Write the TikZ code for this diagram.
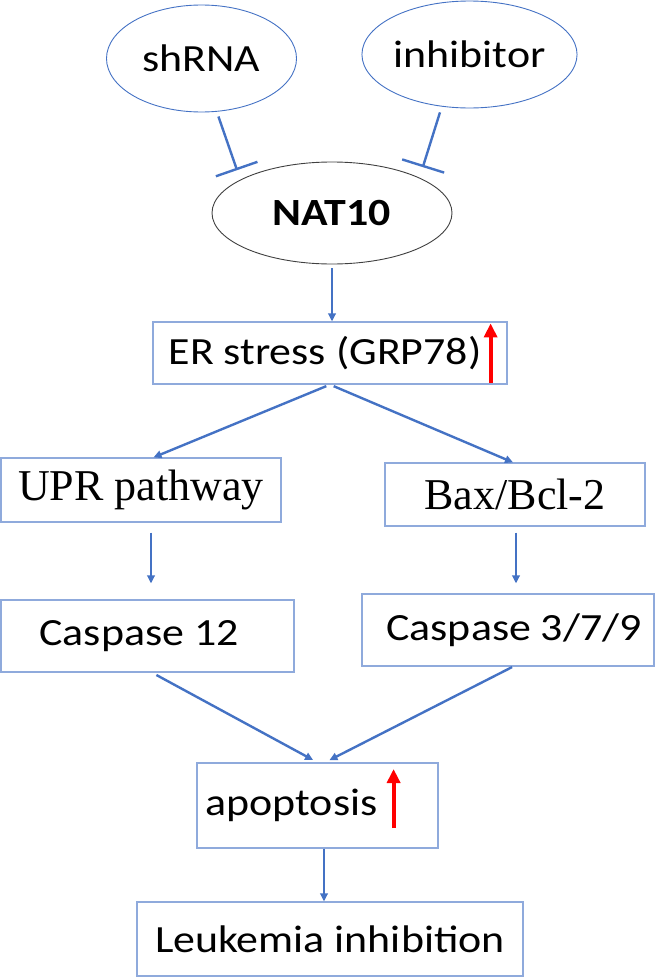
\documentclass[tikz,border=0pt]{standalone}
\usepackage{fontspec}
\setmainfont{Carlito}[FakeStretch=1.14]
\newfontfamily\romanfont{Liberation Serif}
\usetikzlibrary{arrows.meta,shapes.geometric}
\definecolor{linkblue}{RGB}{68,114,196}
\definecolor{boxblue}{RGB}{143,170,220}
\begin{document}
\begin{tikzpicture}[x=1pt,y=-1pt,
    every node/.style={inner sep=0pt,font=\fontsize{38.5}{40}\selectfont},
    agent/.style={ellipse,draw=linkblue,line width=0.9pt},
    target/.style={ellipse,draw=black!75,line width=0.9pt,font=\fontsize{38.5}{40}\selectfont\bfseries},
    stage/.style={rectangle,draw=boxblue,line width=1.2pt},
    serifstage/.style={stage,font=\fontsize{44}{46}\selectfont\romanfont},
    flow/.style={linkblue,line width=2.4pt,-{Triangle[length=8pt,width=7.5pt]}},
    block/.style={linkblue,line width=2.4pt,-{Bar[width=44pt]}},
    rise/.style={red,line width=4pt,-{Triangle[length=14pt,width=13pt]}}]
    \useasboundingbox (0,0) rectangle (656,977);

    % Regulators and target
    \node[agent,minimum width=190pt,minimum height=107pt] (shrna) at (201.5,58.5) {shRNA};
    \node[agent,minimum width=189pt,minimum height=107pt] (inhib) at (469.5,54.5) {inhibitor};
    \node[target,minimum width=240pt,minimum height=102pt] (nat) at (332,213) {NAT10};

    % Pathway boxes
    \node[stage,minimum width=354pt,minimum height=62pt] (er) at (330,353) {ER stress (GRP78)\hspace*{10pt}};
    \node[serifstage,minimum width=280pt,minimum height=64pt] (upr) at (141,490) {UPR pathway};
    \node[serifstage,minimum width=260pt,minimum height=63pt] (bax) at (515,494.5) {Bax/Bcl-2};
    \node[stage,minimum width=293pt,minimum height=72pt] (c12) at (147.5,636) {Caspase 12\hspace*{17pt}};
    \node[stage,minimum width=292pt,minimum height=72pt] (c379) at (508,630) {\hspace*{12pt}Caspase 3/7/9};
    \node[stage,minimum width=241pt,minimum height=85pt] (apo) at (317.5,805.5) {apoptosis\hspace*{52pt}};
    \node[stage,minimum width=386pt,minimum height=74pt] (leuk) at (330,939) {Leukemia inhibition};

    % Inhibition
    \draw[block,shorten <=5pt,shorten >=10pt] (shrna.-74) -- (nat.160);
    \draw[block,shorten <=6pt,shorten >=11pt] (inhib.242) -- (nat.22.5);

    % Activation
    \draw[flow,shorten <=4pt] (nat.south) -- (nat.south |- er.north);
    \draw[flow,shorten <=4pt] (er.south) -- ([xshift=12.5pt]upr.north);
    \draw[flow,shorten <=4pt] (er.south) -- ([xshift=-2pt]bax.north);
    \draw[flow,shorten <=10pt,shorten >=16pt] ([xshift=10pt]upr.south) -- ([xshift=3.5pt]c12.north);
    \draw[flow,shorten <=6pt,shorten >=10pt] ([xshift=1pt]bax.south) -- ([xshift=8pt]c379.north);
    \draw[flow,shorten <=5pt,shorten >=5pt] ([xshift=4.5pt]c12.south) -- (apo.north);
    \draw[flow,shorten <=1pt,shorten >=5pt] ([xshift=5pt]c379.south) -- ([xshift=7.5pt]apo.north);
    \draw[flow] ([xshift=6.5pt]apo.south) -- ([xshift=-6pt]leuk.north);

    % Up-regulation marks
    \draw[rise] ([shift={(-17,-2)}]er.south east) -- ([shift={(-17,2)}]er.north east);
    \draw[rise] ([shift={(-45,22.5)}]apo.east) -- ([shift={(-45,-36.5)}]apo.east);

\end{tikzpicture}
\end{document}
